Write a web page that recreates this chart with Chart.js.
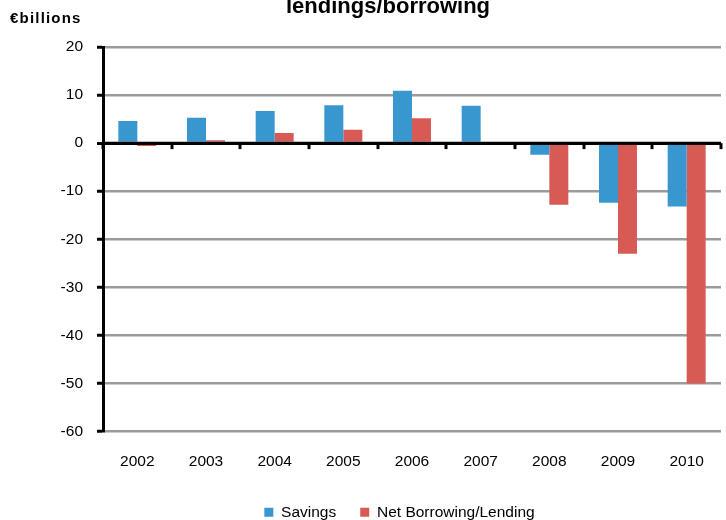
<!DOCTYPE html>
<html>
<head>
<meta charset="utf-8">
<script src="https://cdn.jsdelivr.net/npm/chart.js@4/dist/chart.umd.min.js"></script>
<style>
  html, body { margin: 0; padding: 0; background: #fff; }
  #wrap { width: 726px; height: 520px; }
</style>
</head>
<body>
<div id="wrap"><canvas id="c" width="726" height="520"></canvas></div>
<script>
// Annual figures, € billions
const years = ['2002', '2003', '2004', '2005', '2006', '2007', '2008', '2009', '2010'];
const savings = [4.6, 5.3, 6.7, 7.9, 10.9, 7.8, -2.4, -12.4, -13.2];
const netBorrowingLending = [-0.6, 0.6, 2.1, 2.8, 5.2, 0, -12.8, -23.0, -50.0];
const seriesNames = ['Savings', 'Net Borrowing/Lending'];
const titleText = 'lendings/borrowing';
const unitText = '€billions';

const FONT = '"Liberation Sans", Arial, sans-serif';
const BLUE = '#3897cf';
const RED = '#d85a55';
const GRID = '#9b9b9b';

// Zero line with small category ticks hanging under it, plus title and unit caption
const decorations = {
  id: 'decorations',
  afterLayout(chart) {
    // nudge the bottom legend so it sits under the plot rather than the canvas centre
    if (chart.legend) { chart.legend.left += 10; chart.legend.right += 10; }
  },
  afterDatasetsDraw(chart) {
    const { ctx, chartArea, scales: { x, y } } = chart;
    const y0 = y.getPixelForValue(0);
    ctx.save();
    ctx.strokeStyle = '#000';
    ctx.lineWidth = 3;
    ctx.beginPath();
    ctx.moveTo(chartArea.left, y0);
    ctx.lineTo(chartArea.right, y0);
    ctx.stroke();
    for (let i = 0; i <= years.length; i++) {
      const px = Math.round(x.getPixelForValue(i - 0.5));
      ctx.beginPath();
      ctx.moveTo(px, y0);
      ctx.lineTo(px, y0 + 6);
      ctx.stroke();
    }
    ctx.restore();
  },
  afterDraw(chart) {
    const { ctx } = chart;
    ctx.save();
    ctx.fillStyle = '#000';
    ctx.textBaseline = 'alphabetic';
    ctx.textAlign = 'center';
    ctx.font = 'bold 22px ' + FONT;
    ctx.fillText(titleText, 388, 13);
    ctx.textAlign = 'left';
    ctx.font = 'bold 15px ' + FONT;
    if ('letterSpacing' in ctx) ctx.letterSpacing = '1.2px';
    ctx.fillText(unitText, 10, 23);
    ctx.restore();
  }
};

new Chart(document.getElementById('c'), {
  type: 'bar',
  data: {
    labels: years,
    datasets: [
      { label: seriesNames[0], data: savings, backgroundColor: BLUE, borderWidth: 0 },
      { label: seriesNames[1], data: netBorrowingLending, backgroundColor: RED, borderWidth: 0 }
    ]
  },
  options: {
    responsive: false,
    animation: false,
    devicePixelRatio: 1,
    layout: { padding: { top: 47, left: 58, right: 5, bottom: -10 } },
    datasets: { bar: { categoryPercentage: 0.553, barPercentage: 1 } },
    scales: {
      x: {
        afterFit: s => { s.height = 49; },
        grid: { display: false },
        border: { display: false },
        ticks: { color: '#000', padding: 13, font: { family: FONT, size: 15.5 }, maxRotation: 0 }
      },
      y: {
        min: -60,
        max: 20,
        afterFit: s => { s.width = 45; },
        border: { color: '#000', width: 3 },
        grid: {
          color: c => (c.tick && c.tick.value === 0 ? '#000' : GRID),
          lineWidth: c => (c.tick && c.tick.value === 0 ? 3 : 2.5),
          tickColor: '#000',
          tickWidth: 3,
          tickLength: 6
        },
        ticks: { stepSize: 10, color: '#000', padding: 14, font: { family: FONT, size: 15.5 } }
      }
    },
    plugins: {
      legend: {
        position: 'bottom',
        labels: {
          boxWidth: 9,
          boxHeight: 9,
          padding: 24,
          color: '#000',
          font: { family: FONT, size: 15.5 }
        }
      },
      tooltip: { enabled: false },
      title: { display: false }
    }
  },
  plugins: [decorations]
});
</script>
</body>
</html>
